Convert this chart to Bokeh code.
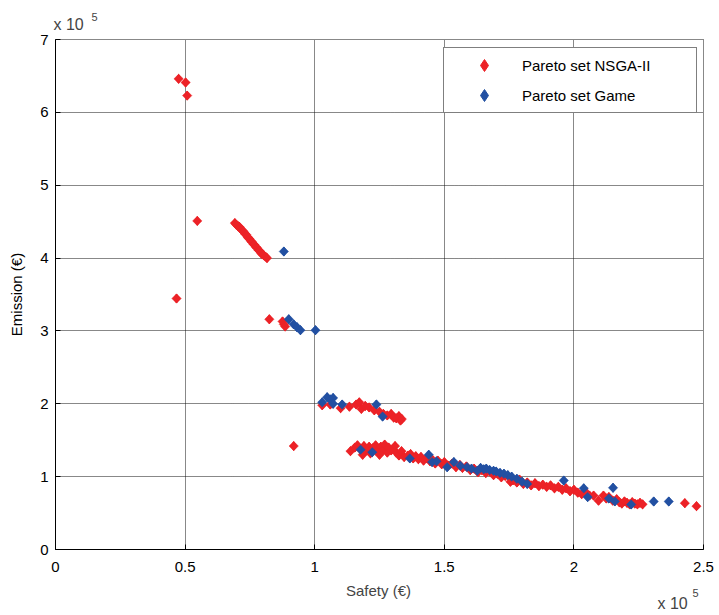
import numpy as np
from bokeh.plotting import figure
from bokeh.models import Range1d, FixedTicker, Label, Legend, LegendItem, ColumnDataSource
from bokeh.embed import file_html
from bokeh.resources import INLINE

# ---- data (units of 1e5 EUR) ----
nsga_safety = [0.475, 0.502, 0.508, 0.547, 0.467,
               0.692, 0.697, 0.703, 0.709, 0.712, 0.718, 0.723, 0.726, 0.732, 0.736, 0.741, 0.746, 0.749,
               0.755, 0.758, 0.764, 0.768, 0.774, 0.777, 0.783, 0.787, 0.793, 0.798, 0.803, 0.810, 0.816,
               0.825, 0.876, 0.881, 0.886, 0.919,
               1.029, 1.060, 1.100, 1.134, 1.160, 1.172, 1.180, 1.195, 1.210, 1.230, 1.250, 1.265, 1.280,
               1.295, 1.305, 1.315, 1.325, 1.331, 1.336,
               1.138, 1.155, 1.165, 1.175, 1.185, 1.190, 1.200, 1.210, 1.215, 1.225, 1.235, 1.240, 1.250,
               1.255, 1.265, 1.270, 1.280, 1.285, 1.295, 1.310, 1.315, 1.325, 1.335, 1.345, 1.360, 1.370,
               1.380, 1.390, 1.400, 1.410, 1.420, 1.430, 1.445, 1.455, 1.465, 1.475, 1.490, 1.500, 1.515,
               1.530, 1.545, 1.560, 1.570, 1.585, 1.600, 1.615, 1.630, 1.645, 1.660, 1.675, 1.690, 1.705,
               1.720, 1.735, 1.755, 1.765, 1.780, 1.790, 1.805, 1.820, 1.835, 1.850, 1.865, 1.880, 1.895,
               1.910, 1.925, 1.940, 1.955, 1.970, 1.985, 2.000, 2.015, 2.030, 2.045, 2.060, 2.076, 2.095,
               2.114, 2.125, 2.135, 2.150, 2.165, 2.175, 2.185, 2.195, 2.205, 2.215, 2.225, 2.235, 2.245,
               2.255, 2.265, 2.428, 2.473]
nsga_emission = [6.46, 6.41, 6.23, 4.51, 3.445,
                 4.48, 4.46, 4.44, 4.43, 4.41, 4.39, 4.37, 4.36, 4.33, 4.32, 4.29, 4.27, 4.26,
                 4.23, 4.22, 4.19, 4.18, 4.15, 4.14, 4.11, 4.10, 4.07, 4.05, 4.04, 4.02, 4.00,
                 3.16, 3.13, 3.09, 3.06, 1.42,
                 1.98, 1.99, 1.94, 1.96, 1.99, 2.02, 1.93, 1.97, 1.95, 1.91, 1.89, 1.86, 1.84,
                 1.86, 1.81, 1.80, 1.83, 1.77, 1.79,
                 1.35, 1.40, 1.43, 1.38, 1.30, 1.42, 1.36, 1.41, 1.32, 1.39, 1.43, 1.35, 1.30,
                 1.41, 1.37, 1.44, 1.33, 1.40, 1.36, 1.42, 1.33, 1.29, 1.35, 1.27, 1.29, 1.31,
                 1.25, 1.28, 1.24, 1.27, 1.22, 1.25, 1.21, 1.23, 1.18, 1.22, 1.17, 1.20, 1.15,
                 1.18, 1.13, 1.16, 1.12, 1.14, 1.09, 1.11, 1.06, 1.09, 1.05, 1.07, 1.02, 1.04,
                 0.99, 1.01, 0.93, 0.95, 0.92, 0.96, 0.90, 0.92, 0.88, 0.91, 0.87, 0.89, 0.86,
                 0.88, 0.84, 0.86, 0.82, 0.84, 0.80, 0.82, 0.78, 0.76, 0.79, 0.74, 0.74, 0.67,
                 0.74, 0.70, 0.72, 0.67, 0.69, 0.65, 0.63, 0.66, 0.64, 0.62, 0.65, 0.63, 0.62,
                 0.64, 0.62, 0.636, 0.595]

game_safety = [0.881, 0.900, 0.919, 0.932, 0.945, 1.003,
               1.029, 1.048, 1.060, 1.071, 1.071, 1.106, 1.238, 1.262,
               1.177, 1.222, 1.367, 1.440, 1.453, 1.470, 1.511, 1.537, 1.562, 1.588, 1.605, 1.627, 1.640,
               1.652, 1.662, 1.675, 1.690, 1.700, 1.715, 1.730, 1.745, 1.760, 1.780, 1.800, 1.820,
               1.961, 2.038, 2.053, 2.135, 2.151, 2.158, 2.221, 2.308, 2.366]
game_emission = [4.09, 3.16, 3.09, 3.05, 3.01, 3.01,
                 2.02, 2.09, 2.06, 2.08, 2.00, 1.99, 1.99, 1.825,
                 1.37, 1.335, 1.25, 1.30, 1.20, 1.21, 1.13, 1.20, 1.15, 1.13, 1.11, 1.08, 1.12,
                 1.10, 1.11, 1.09, 1.08, 1.07, 1.05, 1.04, 1.02, 1.00, 0.97, 0.93, 0.90,
                 0.947, 0.84, 0.72, 0.70, 0.847, 0.66, 0.618, 0.659, 0.659]

x_ticks = [0, 0.5, 1, 1.5, 2, 2.5]
x_tick_labels = ["0", "0.5", "1", "1.5", "2", "2.5"]
y_ticks = [0, 1, 2, 3, 4, 5, 6, 7]
y_tick_labels = ["0", "1", "2", "3", "4", "5", "6", "7"]

RED = "#EC2227"
BLUE = "#2250A2"
FONT = "Liberation Sans"

p = figure(width=719, height=615, output_backend="svg", toolbar_location=None,
           x_range=Range1d(0, 2.5), y_range=Range1d(0, 7),
           min_border_left=55, min_border_right=16, min_border_top=39, min_border_bottom=66)
p.background_fill_color = "white"
p.border_fill_color = "white"
p.outline_line_color = "#111111"
p.outline_line_dash = "1 1"
p.outline_line_width = 1

for ax, ticks, labels in ((p.xaxis[0], x_ticks, x_tick_labels), (p.yaxis[0], y_ticks, y_tick_labels)):
    ax.ticker = FixedTicker(ticks=ticks)
    ax.major_label_overrides = {t: l for t, l in zip(ticks, labels)}
    ax.major_tick_in = 5
    ax.major_tick_out = 0
    ax.minor_tick_line_color = None
    ax.axis_line_color = "black"
    ax.major_tick_line_color = "black"
    ax.major_label_text_font = FONT
    ax.major_label_text_font_size = "15px"
    ax.major_label_text_color = "black"
    ax.axis_label_text_font = FONT
    ax.axis_label_text_font_size = "15px"
    ax.axis_label_text_font_style = "normal"
    ax.axis_label_text_color = "black"

p.yaxis.axis_label = "Emission (€)"
p.xaxis.major_label_standoff = 12
p.yaxis.major_label_standoff = 7
p.yaxis.axis_label_standoff = 12

for g, ticks in ((p.xgrid[0], x_ticks), (p.ygrid[0], y_ticks)):
    g.ticker = FixedTicker(ticks=ticks)
    g.grid_line_color = "#111111"
    g.grid_line_dash = "1 1"
    g.grid_line_width = 1
    g.grid_line_alpha = 1.0

src_n = ColumnDataSource(dict(x=nsga_safety, y=nsga_emission))
src_g = ColumnDataSource(dict(x=game_safety, y=game_emission))
# diamond renderers (used for the legend glyphs), covered by the rotated squares
l1 = p.scatter("x", "y", source=src_n, marker="diamond", size=9, fill_color=RED, line_color=RED)
l2 = p.scatter("x", "y", source=src_g, marker="diamond", size=9, fill_color=BLUE, line_color=BLUE)
r1 = p.scatter("x", "y", source=src_n, marker="square", angle=np.pi / 4, size=6.6,
               fill_color=RED, line_color=RED, line_width=0.5)
r2 = p.scatter("x", "y", source=src_g, marker="square", angle=np.pi / 4, size=6.6,
               fill_color=BLUE, line_color=BLUE, line_width=0.5)

legend = Legend(items=[LegendItem(label="Pareto set NSGA-II", renderers=[l1]),
                       LegendItem(label="Pareto set Game", renderers=[l2])],
                location=(388, 436), orientation="vertical",
                padding=2, spacing=-2, margin=0,
                glyph_width=76, glyph_height=30, label_height=30, label_width=172,
                label_standoff=0,
                label_text_font=FONT, label_text_font_size="15px", label_text_color="black",
                border_line_color="black", border_line_width=1,
                background_fill_color="white", background_fill_alpha=1)
p.add_layout(legend)

# texts outside the frame, placed in side panels (canvas units, y from top)
p.add_layout(Label(x=53, y=24, x_units="canvas", y_units="canvas", text="x 10",
                   text_font=FONT, text_font_size="16px", text_baseline="alphabetic"), "above")
p.add_layout(Label(x=91, y=16, x_units="canvas", y_units="canvas", text="5",
                   text_font=FONT, text_font_size="11px", text_baseline="alphabetic"), "above")
p.add_layout(Label(x=378, y=590, x_units="canvas", y_units="canvas", text="Safety (€)",
                   text_font=FONT, text_font_size="15px", text_baseline="alphabetic",
                   text_align="center"), "below")
p.add_layout(Label(x=657, y=603, x_units="canvas", y_units="canvas", text="x 10",
                   text_font=FONT, text_font_size="16px", text_baseline="alphabetic"), "below")
p.add_layout(Label(x=692, y=592, x_units="canvas", y_units="canvas", text="5",
                   text_font=FONT, text_font_size="11px", text_baseline="alphabetic"), "right")

open("out.html", "w").write(file_html(p, INLINE))
